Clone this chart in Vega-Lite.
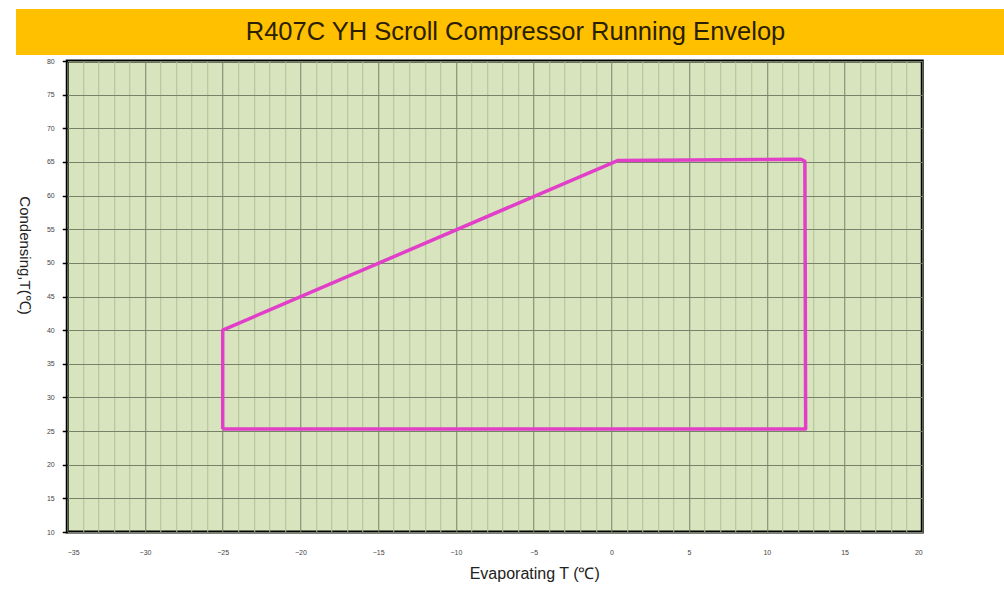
{
  "$schema": "https://vega.github.io/schema/vega-lite/v6.json",
  "background": "white",
  "padding": {"left": 15, "top": 9, "right": 0, "bottom": 0},
  "spacing": 0,
  "center": true,
  "config": {
    "font": "Liberation Sans",
    "view": {"stroke": null}
  },
  "vconcat": [
    {
      "width": 989,
      "height": 46,
      "view": {"fill": "#FFC000", "stroke": null},
      "data": {"values": [{"title": "R407C YH Scroll Compressor Running Envelop"}]},
      "mark": {"type": "text", "fontSize": 25.5, "color": "#2a2000", "font": "Liberation Sans", "dx": 5},
      "encoding": {"text": {"field": "title", "type": "nominal"}}
    },
    {
      "width": 855,
      "height": 471,
      "view": {"fill": "#D7E4BD", "stroke": "#000000", "strokeWidth": 3},
      "data": {"values": [
        {"order": 1, "evap": -25, "cond": 25.3},
        {"order": 2, "evap": -25, "cond": 40},
        {"order": 3, "evap": 0.4, "cond": 65.2},
        {"order": 4, "evap": 12.2, "cond": 65.4},
        {"order": 5, "evap": 12.45, "cond": 65.1},
        {"order": 6, "evap": 12.5, "cond": 25.3},
        {"order": 7, "evap": -25, "cond": 25.3}
      ]},
      "resolve": {"axis": {"y": "independent"}},
      "layer": [
        {
          "mark": {"type": "line", "color": "#E23FC8", "strokeWidth": 3.5, "strokeJoin": "round"},
          "encoding": {
            "order": {"field": "order", "type": "quantitative"},
            "x": {
              "field": "evap", "type": "quantitative",
              "scale": {"domain": [-35, 20], "nice": false, "zero": false},
              "axis": {
                "title": "Evaporating T (℃)",
                "values": [-35,-34,-33,-32,-31,-30,-29,-28,-27,-26,-25,-24,-23,-22,-21,-20,-19,-18,-17,-16,-15,-14,-13,-12,-11,-10,-9,-8,-7,-6,-5,-4,-3,-2,-1,0,1,2,3,4,5,6,7,8,9,10,11,12,13,14,15,16,17,18,19,20],
                "labelExpr": "datum.value % 5 === 0 ? datum.label : ''",
                "labelFontSize": 7,
                "labelColor": "#444444",
                "labelPadding": 16,
                "ticks": false,
                "tickSize": 0,
                "domain": false,
                "grid": true,
                "gridColor": {"condition": {"test": "datum.value % 5 === 0", "value": "#76836A"}, "value": "#B2C09B"},
                "gridOpacity": 1,
                "gridWidth": 1,
                "titleFontSize": 16,
                "titleFontWeight": "normal",
                "titleColor": "#222222",
                "titleX": 467,
                "titlePadding": 10
              }
            },
            "y": {
              "field": "cond", "type": "quantitative",
              "scale": {"domain": [10, 80], "nice": false, "zero": false},
              "axis": {
                "title": "Condensing,T(℃)",
                "values": [10,15,20,25,30,35,40,45,50,55,60,65,70,75,80],
                "labelFontSize": 7,
                "labelColor": "#444444",
                "labelPadding": 8,
                "tickSize": 5,
                "tickColor": "#000000",
                "tickWidth": 1.5,
                "domain": false,
                "grid": true,
                "gridColor": "#76836A",
                "gridOpacity": 1,
                "gridWidth": 1,
                "titleFontSize": 15,
                "titleFontWeight": "normal",
                "titleColor": "#222222",
                "titleAngle": 90,
                "titleBaseline": "middle",
                "titleX": -42.5,
                "titleY": 194
              }
            }
          }
        },
        {
          "mark": {"type": "rule", "strokeOpacity": 0},
          "encoding": {
            "y": {
              "field": "cond", "type": "quantitative",
              "scale": {"domain": [10, 80], "nice": false, "zero": false},
              "axis": {"orient": "right", "title": null, "labels": false, "ticks": false, "domain": false, "grid": false, "minExtent": 30, "maxExtent": 30}
            }
          }
        }
      ]
    }
  ]
}
